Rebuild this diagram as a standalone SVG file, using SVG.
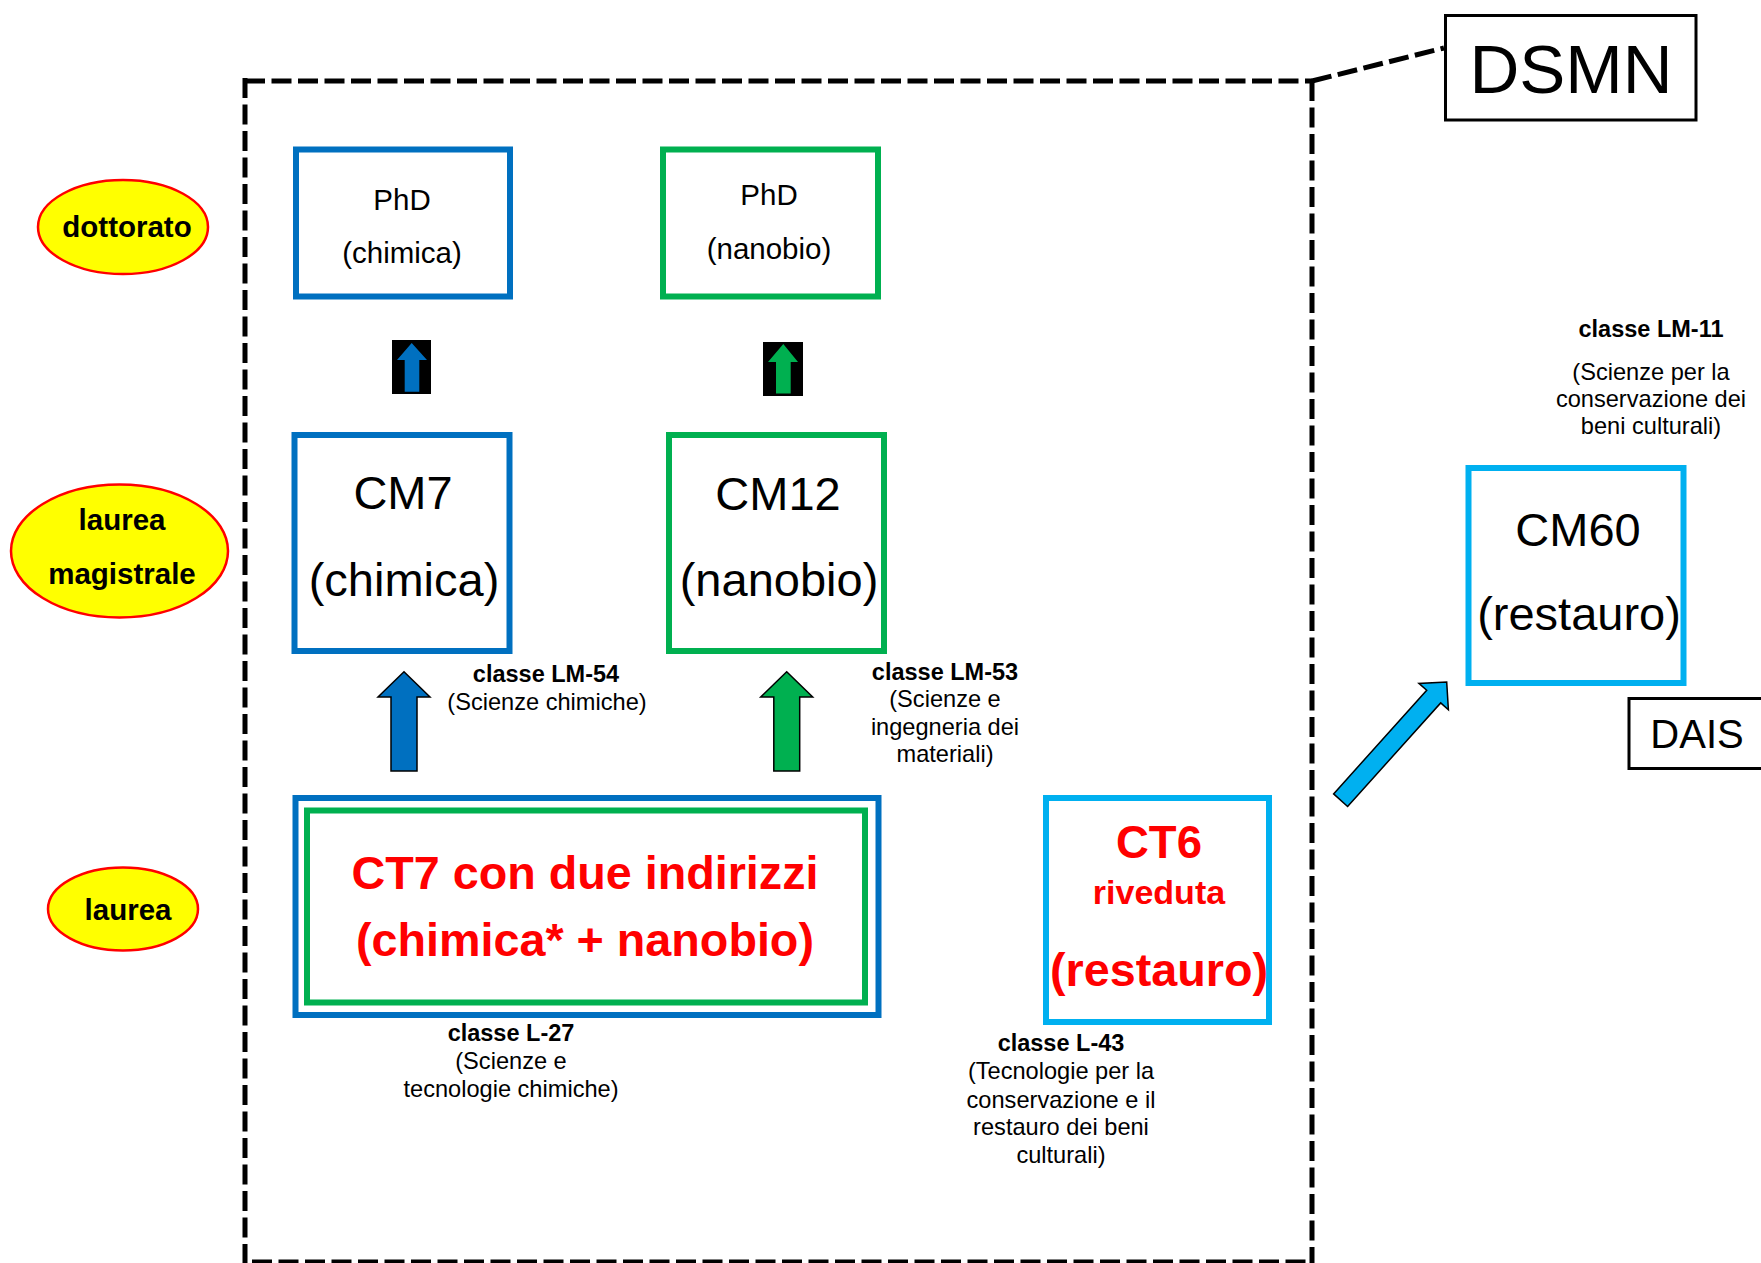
<svg xmlns="http://www.w3.org/2000/svg" width="1761" height="1263" viewBox="0 0 1761 1263">
<style>
text{font-family:"Liberation Sans",Arial,sans-serif;text-anchor:middle;fill:#000}
.lbl{font-size:23.5px;font-weight:bold}
.sub{font-size:23.6px}
.ell{fill:#FFFF00;stroke:#FF0000;stroke-width:2.5}
.etx{font-size:29.5px;font-weight:bold}
.box{fill:none;stroke-width:6}
.blue{stroke:#0070C0}
.green{stroke:#00B050}
.lblue{stroke:#00B0F0}
.red{fill:#FF0000;font-weight:bold}
.dash{fill:none;stroke:#000;stroke-width:5;stroke-dasharray:20 6.5}
.frame{fill:#fff;stroke:#000;stroke-width:3}
.arr{stroke:#000;stroke-width:1.5;stroke-linejoin:miter}
.phd{font-size:29.5px}
.cm{font-size:47px}
</style>
<rect width="1761" height="1263" fill="#fff"/>

<g id="dsmn-frame">
<line class="dash" x1="245" y1="81" x2="1312" y2="81"/>
<line class="dash" x1="245" y1="78" x2="245" y2="1263"/>
<line class="dash" x1="1312" y1="81" x2="1312" y2="1263"/>
<line class="dash" x1="252" y1="1262" x2="1312" y2="1262"/>
<line class="dash" x1="1312" y1="81" x2="1444" y2="48"/>
</g>

<g id="dsmn">
<rect class="frame" x="1445.5" y="15.5" width="250.5" height="104.5"/>
<text x="1571" y="93" style="font-size:69px">DSMN</text>
</g>

<g id="dais">
<rect class="frame" x="1629" y="698.5" width="150" height="70"/>
<text x="1697" y="748" style="font-size:40px">DAIS</text>
</g>

<g id="dottorato">
<ellipse class="ell" cx="123" cy="227" rx="85" ry="47"/>
<text class="etx" x="127" y="237">dottorato</text>
</g>
<g id="laurea-magistrale">
<ellipse class="ell" cx="119.5" cy="551" rx="108.5" ry="66.5"/>
<text class="etx" x="122" y="530">laurea</text>
<text class="etx" x="122" y="584">magistrale</text>
</g>
<g id="laurea">
<ellipse class="ell" cx="123" cy="909" rx="75" ry="41.5"/>
<text class="etx" x="128" y="920">laurea</text>
</g>

<g id="phd-chimica">
<rect class="box blue" x="296" y="149.5" width="214" height="147"/>
<text class="phd" x="402" y="210">PhD</text>
<text class="phd" x="402" y="263">(chimica)</text>
</g>
<g id="phd-nanobio">
<rect class="box green" x="663" y="149.5" width="215" height="147"/>
<text class="phd" x="769" y="205">PhD</text>
<text class="phd" x="769" y="259">(nanobio)</text>
</g>

<g id="cm7">
<rect class="box blue" x="294.5" y="435" width="215" height="216"/>
<text class="cm" x="403" y="509">CM7</text>
<text class="cm" x="404" y="596">(chimica)</text>
</g>
<g id="cm12">
<rect class="box green" x="669" y="435" width="215" height="216"/>
<text class="cm" x="778" y="510">CM12</text>
<text class="cm" x="779" y="596">(nanobio)</text>
</g>

<g id="cm60">
<rect class="box lblue" x="1468.5" y="468" width="215" height="215"/>
<text class="cm" x="1578" y="546">CM60</text>
<text class="cm" x="1579" y="630">(restauro)</text>
</g>

<g id="ct7">
<rect class="box blue" x="295.5" y="798" width="583" height="217"/>
<rect class="box green" x="307" y="810.5" width="558" height="192"/>
<text class="red" x="585" y="889" style="font-size:46.7px">CT7 con due indirizzi</text>
<text class="red" x="585" y="955.5" style="font-size:46.7px">(chimica* + nanobio)</text>
</g>

<g id="ct6">
<rect class="box lblue" x="1046" y="798" width="223" height="224"/>
<text class="red" x="1159" y="858" style="font-size:45.5px">CT6</text>
<text class="red" x="1159" y="904" style="font-size:34px">riveduta</text>
<text class="red" x="1159" y="985.5" style="font-size:46.7px">(restauro)</text>
</g>

<g id="labels">
<text class="lbl" x="546" y="682">classe LM-54</text>
<text class="sub" x="547" y="710">(Scienze chimiche)</text>
<text class="lbl" x="945" y="680">classe LM-53</text>
<text class="sub" x="945" y="707">(Scienze e</text>
<text class="sub" x="945" y="735">ingegneria dei</text>
<text class="sub" x="945" y="762">materiali)</text>
<text class="lbl" x="511" y="1041">classe L-27</text>
<text class="sub" x="511" y="1069">(Scienze e</text>
<text class="sub" x="511" y="1097">tecnologie chimiche)</text>
<text class="lbl" x="1061" y="1051">classe L-43</text>
<text class="sub" x="1061" y="1079">(Tecnologie per la</text>
<text class="sub" x="1061" y="1107.5">conservazione e il</text>
<text class="sub" x="1061" y="1135">restauro dei beni</text>
<text class="sub" x="1061" y="1163">culturali)</text>
<text class="lbl" x="1651" y="337">classe LM-11</text>
<text class="sub" x="1651" y="380">(Scienze per la</text>
<text class="sub" x="1651" y="406.5">conservazione dei</text>
<text class="sub" x="1651" y="433.5">beni culturali)</text>
</g>

<g id="connectors">
<rect x="392" y="340" width="39" height="54" fill="#000"/>
<polygon points="411.7,343 427,360 419.3,360 419.3,391.7 404.7,391.7 404.7,360 397,360" fill="#0070C0"/>
<rect x="763" y="342" width="40" height="54" fill="#000"/>
<polygon points="783.3,344 798,362 790.7,362 790.7,393.5 776,393.5 776,362 768,362" fill="#00B050"/>
<polygon class="arr" points="404,671.7 430,697 417,697 417,771 391,771 391,697 378,697" fill="#0070C0"/>
<polygon class="arr" points="786.7,671.7 812.7,697 799.7,697 799.7,771 773.8,771 773.8,697 760.7,697" fill="#00B050"/>
<polygon class="arr" points="1347.6,806.5 1440.7,702.9 1448.4,709.8 1446.7,682 1418.9,683.4 1426.7,690.3 1333.6,793.9" fill="#00B0F0"/>
</g>
</svg>
